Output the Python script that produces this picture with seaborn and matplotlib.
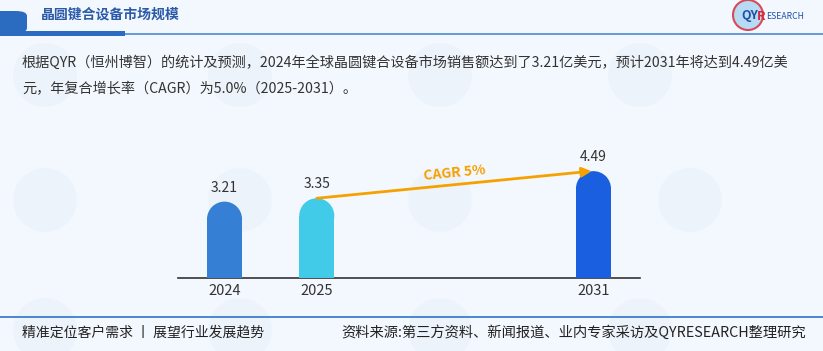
import matplotlib
matplotlib.use("Agg")
import matplotlib.pyplot as plt
import seaborn as sns
import pandas as pd
from matplotlib.patches import Ellipse, FancyBboxPatch, Rectangle
from matplotlib.lines import Line2D

years = ["2024", "2025", "2031"]
values = [3.21, 3.35, 4.49]
positions = [0, 1, 4]
colors = ["#3580D4", "#42CBE8", "#1A5FDF"]
value_labels = ["3.21", "3.35", "4.49"]
cagr_label = "CAGR 5%"
title = "晶圆键合设备市场规模"
desc1 = "根据QYR（恒州博智）的统计及预测，2024年全球晶圆键合设备市场销售额达到了3.21亿美元，预计2031年将达到4.49亿美"
desc2 = "元，年复合增长率（CAGR）为5.0%（2025-2031）。"
footer_left = "精准定位客户需求 丨 展望行业发展趋势"
footer_right = "资料来源:第三方资料、新闻报道、业内专家采访及QYRESEARCH整理研究"

sns.set_theme(style="white")
plt.rcParams['font.family'] = ['Noto Sans CJK SC', 'DejaVu Sans']

W, H = 823, 351
BG = "#F3F8FE"
fig = plt.figure(figsize=(W / 100, H / 100), dpi=100, facecolor=BG)

def fx(x):
    return x / W

def fy(y):
    return 1 - y / H

def circle(cx, cy, r, **kw):
    return Ellipse((fx(cx), fy(cy)), 2 * r / W, 2 * r / H, transform=fig.transFigure, **kw)

# faint watermark globes
for cx, cy in [(45, 75), (240, 75), (440, 75), (640, 75), (45, 200), (240, 200), (440, 200), (690, 200),
               (45, 330), (240, 330), (440, 330), (640, 330)]:
    fig.patches.append(circle(cx, cy, 32, facecolor="#E9F1FA", edgecolor="none", alpha=0.6, zorder=-1))

# header
fig.patches.append(FancyBboxPatch((fx(-12), fy(33)), fx(39), 22 / H, transform=fig.transFigure,
                                  boxstyle="round,pad=0,rounding_size=0.014",
                                  facecolor="#2B6CC0", edgecolor="none", zorder=2))
fig.patches.append(Rectangle((0, fy(35.5)), fx(125), 4 / H, transform=fig.transFigure,
                             facecolor="#2B6CC0", edgecolor="none", zorder=2))
fig.add_artist(Line2D([0, 1], [fy(34), fy(34)], transform=fig.transFigure,
                      color="#4A8AD4", lw=1.2, zorder=1))
fig.text(fx(41), fy(15), title, fontsize=10, fontweight="bold", color="#2A5AA8",
         ha="left", va="center")

# logo
fig.patches.append(circle(748, 15, 15, facecolor="#B7DBF4", edgecolor="#D84A55", lw=1.5, zorder=2))
fig.text(fx(741), fy(16), "QY", fontsize=9, fontweight="bold", color="#1F4FA8",
         ha="left", va="center", zorder=3)
fig.text(fx(757), fy(16), "R", fontsize=9, fontweight="bold", color="#D8283A",
         ha="left", va="center", zorder=3)
fig.text(fx(766), fy(16.5), "ESEARCH", fontsize=6.2, color="#1F4FA8",
         ha="left", va="center", zorder=3)

# description
fig.text(fx(22), fy(63), desc1, fontsize=10.2, color="#333333", ha="left", va="center")
fig.text(fx(22), fy(89), desc2, fontsize=10.2, color="#333333", ha="left", va="center")

# chart axes
ax_left, ax_right = 178.4, 639.6
base_y = 278
px_per_y = 23.8
ymax = 5.0
ax_h = ymax * px_per_y
ax = fig.add_axes([fx(ax_left), (H - base_y) / H, (ax_right - ax_left) / W, ax_h / H])
ax.set_facecolor("none")

df = pd.DataFrame({"pos": positions, "value": values, "year": years})
sns.barplot(data=df, x="pos", y="value", hue="year", palette=colors, native_scale=True,
            width=0.38, saturation=1, dodge=False, legend=False, ax=ax, zorder=3)
ax.set_xlim(-0.5, 4.5)
ax.set_ylim(0, ymax)

px_per_x = (ax_right - ax_left) / 5.0
for p in list(ax.patches):
    x0, w, h = p.get_x(), p.get_width(), p.get_height()
    ry = (w / 2) * px_per_x / px_per_y
    p.set_height(h - ry)
    p.set_edgecolor("none")
    ax.add_patch(Ellipse((x0 + w / 2, h - ry), w, 2 * ry, facecolor=p.get_facecolor(),
                         edgecolor="none", zorder=3))

for x, v, lab in zip(positions, values, value_labels):
    ax.annotate(lab, (x, v), xytext=(0, 10), textcoords="offset points", ha="center",
                va="center", fontsize=10, color="#333333", annotation_clip=False)

ax.annotate("", xy=(3.98, 4.49), xytext=(1.0, 3.35),
            arrowprops=dict(arrowstyle="-|>", color="#F5A100", lw=2, mutation_scale=14,
                            shrinkA=0, shrinkB=0), zorder=4, annotation_clip=False)
ax.text(2.49, 4.42, cagr_label, rotation=5.5, fontsize=10, fontweight="bold", color="#F5A100",
        ha="center", va="center", zorder=4)

ax.set_xticks(positions, years)
ax.tick_params(axis="x", length=0, pad=4, labelsize=10.5, labelcolor="#333333")
ax.set_yticks([])
ax.set_xlabel("")
ax.set_ylabel("")
for s in ["left", "right", "top"]:
    ax.spines[s].set_visible(False)
ax.spines["bottom"].set_color("#333333")
ax.spines["bottom"].set_linewidth(1.2)

# footer
fig.add_artist(Line2D([0, 1], [fy(316.5), fy(316.5)], transform=fig.transFigure,
                      color="#2E74C6", lw=1.2))
fig.text(fx(22), fy(333), footer_left, fontsize=10, color="#222222", ha="left", va="center")
fig.text(fx(806), fy(333), footer_right, fontsize=10.3, color="#222222", ha="right", va="center")

fig.savefig("out.png", dpi=100, facecolor=BG)
